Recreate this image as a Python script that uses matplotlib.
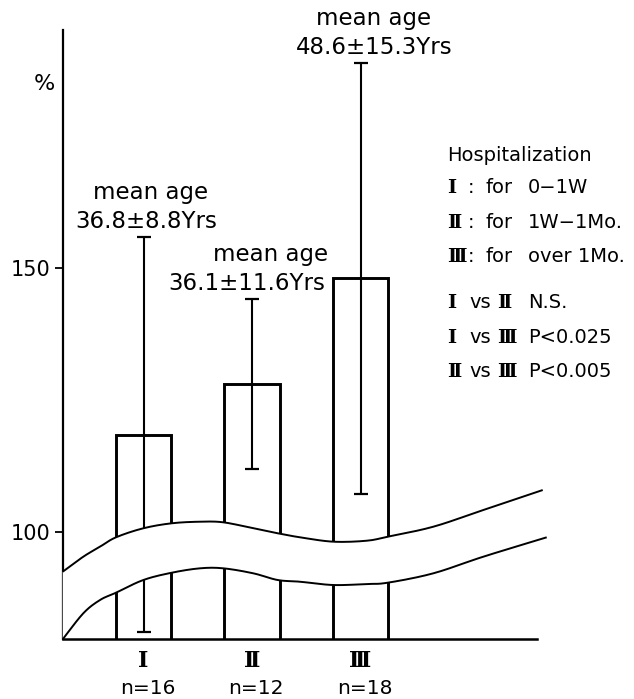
import numpy as np
import matplotlib
matplotlib.use("Agg")
import matplotlib.pyplot as plt
from matplotlib.patches import Polygon

# groups by length of hospitalization
groups = ["Ⅰ", "Ⅱ", "Ⅲ"]
n_sizes = [16, 12, 18]
pct_mean = [118.4, 128.0, 148.1]
pct_sd = [37.5, 16.1, 40.9]
age_mean = [36.8, 36.1, 48.6]
age_sd = [8.8, 11.6, 15.3]
yticks = [100, 150]
periods = ["0−1W", "1W−1Mo.", "over 1Mo."]
comparisons = [("Ⅰ", "Ⅱ", "N.S."), ("Ⅰ", "Ⅲ", "P<0.025"), ("Ⅱ", "Ⅲ", "P<0.005")]

W, H = 634, 699
fig = plt.figure(figsize=(W / 100, H / 100), dpi=100)
ax = fig.add_axes([0.0989, 0.0854, 0.7486, 0.8717])

pos = np.arange(1, len(groups) + 1)
ax.bar(pos, pct_mean, width=0.51, fill=False, edgecolor="black", linewidth=2.1)
ax.errorbar(pos, pct_mean, yerr=pct_sd, fmt="none", ecolor="black",
            elinewidth=1.5, capsize=4.7, capthick=1.6)

ax.set_xlim(0.2553, 4.6295)
ax.set_ylim(79.57, 195.24)
ax.set_xticks([])
ax.set_yticks(yticks)
ax.tick_params(axis="y", direction="out", length=6, width=1.3,
               labelsize=15, pad=3)
for s in ["top", "right"]:
    ax.spines[s].set_visible(False)
ax.spines["left"].set_linewidth(1.6)
ax.spines["bottom"].set_linewidth(1.8)


def smooth(pts, k=12):
    # catmull-rom through the outline points of the break band
    p = np.vstack([pts[0], pts, pts[-1]])
    t = np.linspace(0, 1, k, endpoint=False)[:, None]
    out = []
    for i in range(1, len(p) - 2):
        p0, p1, p2, p3 = p[i - 1], p[i], p[i + 1], p[i + 2]
        out.append(0.5 * (2 * p1 + (p2 - p0) * t
                          + (2 * p0 - 5 * p1 + 4 * p2 - p3) * t ** 2
                          + (3 * p1 - p0 - 3 * p2 + p3) * t ** 3))
    out.append(p[-2][None])
    return np.vstack(out)


# wavy band marking the break in the y axis (axes fraction)
upper = smooth(np.array([
    (0.0, 0.1109), (0.0434, 0.1356), (0.0786, 0.1520), (0.1123, 0.1674),
    (0.1698, 0.1822), (0.2297, 0.1904), (0.2893, 0.1930), (0.3384, 0.1920),
    (0.4016, 0.1822), (0.4530, 0.1740), (0.5000, 0.1674), (0.5702, 0.1602),
    (0.6405, 0.1618), (0.6848, 0.1684), (0.7809, 0.1848), (0.8862, 0.2122),
    (1.0114, 0.2450)]))
lower = smooth(np.array([
    (0.0, 0.0), (0.0434, 0.0427), (0.0786, 0.0645), (0.1123, 0.0765),
    (0.1698, 0.0973), (0.2297, 0.1093), (0.2893, 0.1165), (0.3384, 0.1165),
    (0.4016, 0.1083), (0.4530, 0.0973), (0.5000, 0.0945), (0.5702, 0.0891),
    (0.6405, 0.0908), (0.6848, 0.0929), (0.7809, 0.1083), (0.8862, 0.1356),
    (1.0198, 0.1674)]))
band = Polygon(np.vstack([upper, lower[::-1]]), closed=True, facecolor="white",
               edgecolor="none", transform=ax.transAxes, zorder=3, clip_on=False)
ax.add_patch(band)
for curve in (upper, lower):
    ax.plot(curve[:, 0], curve[:, 1], color="black", lw=1.4,
            transform=ax.transAxes, zorder=4, clip_on=False, solid_capstyle="butt")

serif = ["DejaVu Serif", "DejaVu Sans"]

# group numerals and sample sizes under the bars
xt = ax.get_xaxis_transform()
for p, g, n in zip(pos, groups, n_sizes):
    ax.text(p, -0.045, g, transform=xt, ha="center", va="baseline",
            family=serif, fontsize=16, fontweight="bold")
    ax.text(p + 0.04, -0.0895, f"n={n}", transform=xt, ha="center",
            va="baseline", fontsize=14.5)

# mean age above each error bar
offsets = [(5.4, 2.2), (13.0, -3.6), (9.4, 9.7)]
for p, m, sd, a, s, (dx1, dx2) in zip(pos, pct_mean, pct_sd, age_mean, age_sd, offsets):
    top = m + sd
    ax.annotate("mean age", (p, top), xytext=(dx1, 27.5), textcoords="offset points",
                ha="center", va="baseline", fontsize=16.5, annotation_clip=False)
    ax.annotate(f"{a:.1f}±{s:.1f}Yrs", (p, top), xytext=(dx2, 6.5),
                textcoords="offset points", ha="center", va="baseline",
                fontsize=16.5, annotation_clip=False)


def ftext(px, py, s, **kw):
    kw.setdefault("fontsize", 14)
    fig.text(px / W, 1 - py / H, s, ha="left", va="baseline", **kw)


fig.text(44 / W, 1 - 90 / H, "%", ha="center", va="baseline", fontsize=16)

ftext(446.7, 160.7, "Hospitalization")
row_y = [193.3, 228.3, 261.7]
for y, g, per in zip(row_y, groups, periods):
    ftext(446.7, y, g, family=serif, fontweight="bold")
    ftext(468.0, y, ":")
    ftext(485.0, y, "for")
    ftext(528.0, y, per)

cmp_y = [308.3, 343.3, 376.7]
for y, (a, b, res) in zip(cmp_y, comparisons):
    ftext(446.7, y, a, family=serif, fontweight="bold")
    ftext(469.0, y, "vs")
    ftext(496.7, y, b, family=serif, fontweight="bold")
    ftext(528.0, y, res)

fig.savefig("out.png", dpi=100)
